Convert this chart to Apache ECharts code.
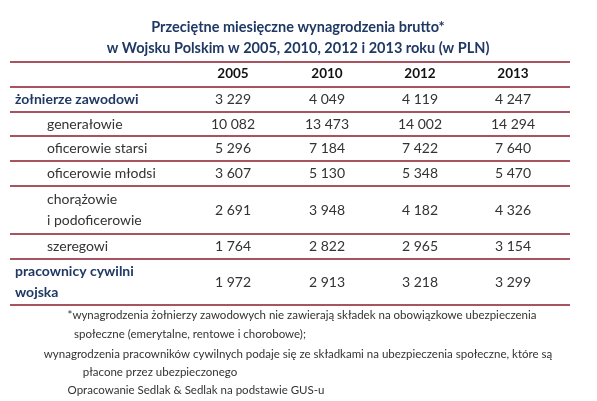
<!DOCTYPE html>
<html><head><meta charset="utf-8">
<script src="https://cdn.jsdelivr.net/npm/echarts@6/dist/echarts.min.js"></script>
<style>html,body{margin:0;padding:0;background:#fff}#c{width:597px;height:401px}</style>
</head><body><div id="c"></div>
<script>
const titleLines = ["Przeciętne miesięczne wynagrodzenia brutto*", "w Wojsku Polskim w 2005, 2010, 2012 i 2013 roku (w PLN)"];
const years = ["2005", "2010", "2012", "2013"];
const categories = [["żołnierze zawodowi"], ["generałowie"], ["oficerowie starsi"], ["oficerowie młodsi"], ["chorążowie", "i podoficerowie"], ["szeregowi"], ["pracownicy cywilni", "wojska"]];
const boldRows = [true, false, false, false, false, false, true];
const v2005 = [3229, 10082, 5296, 3607, 2691, 1764, 1972];
const v2010 = [4049, 13473, 7184, 5130, 3948, 2822, 2913];
const v2012 = [4119, 14002, 7422, 5348, 4182, 2965, 3218];
const v2013 = [4247, 14294, 7640, 5470, 4326, 3154, 3299];
const footnotes = [
 "*wynagrodzenia żołnierzy zawodowych nie zawierają składek na obowiązkowe ubezpieczenia",
 "społeczne (emerytalne, rentowe i chorobowe);",
 "wynagrodzenia pracowników cywilnych podaje się ze składkami na ubezpieczenia społeczne, które są",
 "płacone przez ubezpieczonego",
 "Opracowanie Sedlak & Sedlak na podstawie GUS-u"];

const series = [v2005, v2010, v2012, v2013];
const F = "Lato, 'Open Sans', sans-serif";
const navy = "#1f3864", grey = "#333", red = "#8b1a2b";
const colX = [233, 327, 420, 513];
const lineYs = [62, 87, 112, 136, 161, 186, 234, 259, 305];
const fmt = n => String(n).replace(/\B(?=(\d{3})+(?!\d))/g, " ");
const g = [];
titleLines.forEach((t, i) => g.push({type:'text', x:298, y:27 + i*21, style:{text:t, fill:navy, font:"bold 14.5px " + F, textAlign:'center', textVerticalAlign:'middle'}}));
lineYs.forEach(y => g.push({type:'line', shape:{x1:10, y1:y, x2:570, y2:y}, style:{stroke:red, lineWidth:1.5}}));
years.forEach((yr, j) => g.push({type:'text', x:colX[j], y:74, style:{text:yr, fill:'#111', font:"bold 13.5px " + F, textAlign:'center', textVerticalAlign:'middle'}}));
categories.forEach((lab, i) => {
  const top = lineYs[i+1], bot = lineYs[i+2], mid = (top + bot) / 2;
  const b = boldRows[i];
  lab.forEach((t, k) => {
    const yy = lab.length === 1 ? mid : mid + (k === 0 ? -10.5 : 10.5);
    g.push({type:'text', x: b ? 15 : 47, y: yy, style:{text:t, fill: b ? navy : grey, font:(b ? "bold " : "") + "14px " + F, textVerticalAlign:'middle'}});
  });
  series.forEach((s, j) => g.push({type:'text', x:colX[j], y:mid, style:{text:fmt(s[i]), fill:grey, font:"14px " + F, textAlign:'center', textVerticalAlign:'middle'}}));
});
const fy = [315, 334, 354, 372, 390], fx = [302, 190, 298, 160, 196];
footnotes.forEach((t, i) => g.push({type:'text', x:fx[i], y:fy[i], style:{text:t, fill:grey, font:"11.5px " + F, textAlign:'center', textVerticalAlign:'middle'}}));
const chart = echarts.init(document.getElementById('c'));
chart.setOption({backgroundColor:'#fff', animation:false, graphic:g});
</script></body></html>
